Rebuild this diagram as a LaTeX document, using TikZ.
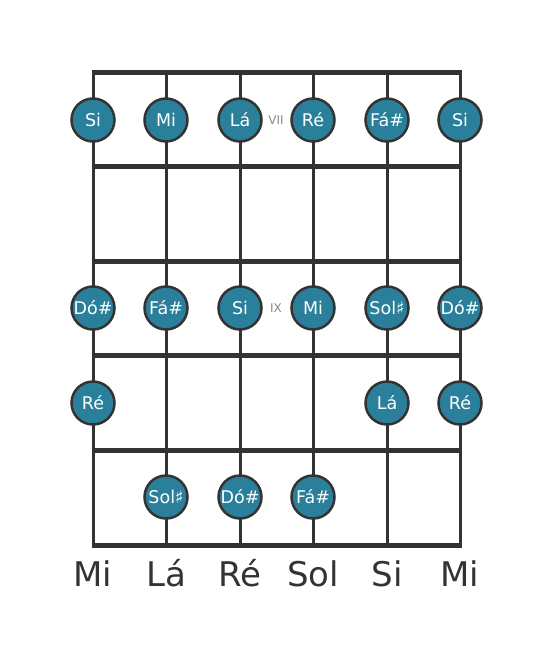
\documentclass[tikz,border=0pt]{standalone}
\usepackage{fontspec}
\setmainfont{DejaVu Sans}
\usetikzlibrary{positioning}
\definecolor{fretline}{RGB}{51,51,51}
\definecolor{notefill}{RGB}{42,128,155}
\definecolor{fretmark}{RGB}{136,136,136}
\tikzstyle{string}=[line width=3pt, draw=fretline]
\tikzstyle{fret}=[line width=5pt, draw=fretline]
\tikzstyle{note}=[circle, fill=notefill, draw=fretline, line width=2.5pt, minimum size=43pt, inner sep=0pt, text=white, font=\fontsize{17.5}{17.5}\selectfont]
\tikzstyle{position}=[text=fretmark, font=\fontsize{12}{12}\selectfont]
\tikzstyle{tuning}=[text=fretline, anchor=base, font=\fontsize{34}{34}\selectfont]

\begin{document}
\begin{tikzpicture}[x=1pt, y=-1pt]
            \useasboundingbox (0,0) rectangle (553,656);
            % strings
            \foreach \x in {93,166,240,313,387,460}
                \draw[string] (\x,72) -- (\x,545);
            % frets
            \foreach \y in {72,166,261,355,450,545}
                \draw[fret] (91.5,\y) -- (461.5,\y);
            % fret markers
            \node[position] (seven) at (276,120) {VII};
            \node[position] (nine) at (276,308) {IX};
            % notes
            \node[note] (siA) at (93,120) {Si};
            \node[note] (miA) at (166,120) {Mi};
            \node[note] (laA) at (240,120) {Lá};
            \node[note] (reA) at (313,120) {Ré};
            \node[note] (faA) at (387,120) {Fá\#};
            \node[note] (siB) at (460,120) {Si};
            \node[note] (doA) at (93,308) {Dó\#};
            \node[note] (faB) at (166,308) {Fá\#};
            \node[note] (siC) at (240,308) {Si};
            \node[note] (miB) at (313,308) {Mi};
            \node[note] (solA) at (387,308) {Sol♯};
            \node[note] (doB) at (460,308) {Dó\#};
            \node[note] (reB) at (93,403) {Ré};
            \node[note] (laB) at (387,403) {Lá};
            \node[note] (reC) at (460,403) {Ré};
            \node[note] (solB) at (166,497) {Sol♯};
            \node[note] (doC) at (240,497) {Dó\#};
            \node[note] (faC) at (313,497) {Fá\#};
            % open strings
            \node[tuning] (open1) at (93,586) {Mi};
            \node[tuning] (open2) at (166,586) {Lá};
            \node[tuning] (open3) at (240,586) {Ré};
            \node[tuning] (open4) at (313,586) {Sol};
            \node[tuning] (open5) at (387,586) {Si};
            \node[tuning] (open6) at (460,586) {Mi};
        \end{tikzpicture}
\end{document}
